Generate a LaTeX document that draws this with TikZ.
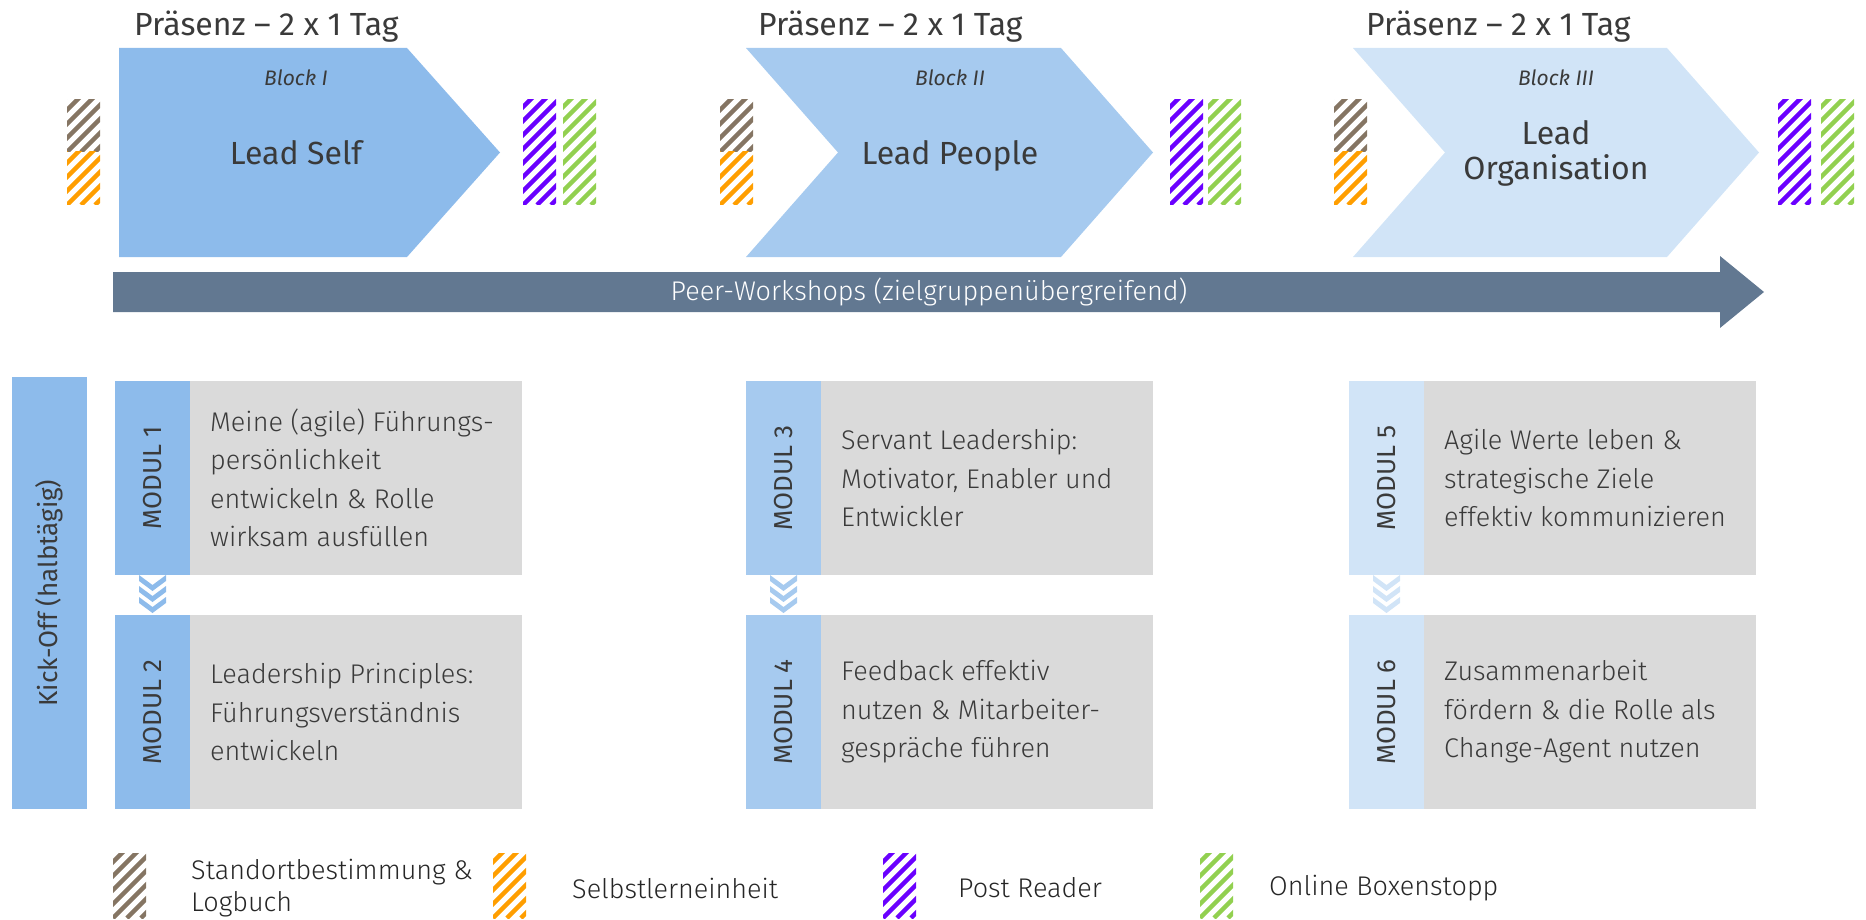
\documentclass[tikz,border=0pt]{standalone}
\usepackage{fontspec}
\setmainfont{Fira Sans}
\newfontfamily\firalight{Fira Sans Light}
\definecolor{blueI}{HTML}{8DBBEB}
\definecolor{blueII}{HTML}{A6CAEF}
\definecolor{blueIII}{HTML}{D1E4F7}
\definecolor{peerblue}{HTML}{627891}
\definecolor{modgrey}{HTML}{DADADA}
\definecolor{txt}{HTML}{3A3A3A}
\definecolor{hbrown}{HTML}{857563}
\definecolor{horange}{HTML}{FF9E00}
\definecolor{hpurple}{HTML}{6A00FF}
\definecolor{hgreen}{HTML}{92D050}
%striped bar: #1 = left x, #2 = top y, #3 = bottom y, #4 = colour
\newcommand{\hatchbar}[4]{%
    \begin{scope}
        \clip (#1,#2) rectangle (#1+33,#3);
        \foreach \s in {-140,-126,...,42}
            \draw[#4,line width=4.5pt] (#1+\s,#3) -- ++(130,-130);
    \end{scope}%
}
%three chevrons between two modules: #1 = centre x, #2 = top y, #3 = colour
\newcommand{\chevrons}[3]{%
    \foreach \k in {0,1,2}
        \fill[#3] (#1-13.5,#2+11*\k) -- (#1,#2+11*\k+10) -- (#1+13.5,#2+11*\k) -- (#1+13.5,#2+11*\k+6) -- (#1,#2+11*\k+16) -- (#1-13.5,#2+11*\k+6) -- cycle;%
}
%one module: #1 = name, #2 = left x, #3 = centre y, #4 = colour, #5 = number, #6 = text
\newcommand{\modul}[6]{%
    \node[modtag,fill=#4] (#1tag) at (#2+37.5,#3) {MODUL #5};
    \node[modbox] (#1box) at (#2+75,#3) {};
    \node[modtext] (#1text) at ([xshift=20pt]#1box.west) {#6};%
}

\begin{document}
\begin{tikzpicture}[x=1pt,y=-1pt,
every node/.style={inner sep=0pt,text=txt},
heading/.style={anchor=base west,font=\fontsize{32}{38}\selectfont},
blocktag/.style={font=\itshape\fontsize{21}{25}\selectfont},
blocktitle/.style={align=center,font=\fontsize{32}{35}\selectfont},
modtag/.style={rotate=90,minimum width=194,minimum height=75,font=\fontsize{26}{30}\selectfont},
modbox/.style={fill=modgrey,anchor=west,minimum width=332,minimum height=194},
modtext/.style={anchor=west,align=left,font=\firalight\fontsize{27}{38.5}\selectfont},
legend/.style={anchor=west,align=left,text=black!85,font=\firalight\fontsize{27}{32}\selectfont}]
\useasboundingbox (0,0) rectangle (1866,920);

%the three blocks
\fill[blueI] (119,48) -- (407,48) -- (500,152.5) -- (407,257) -- (119,257) -- cycle;
\fill[blueII] (746,48) -- (1061,48) -- (1153,152.5) -- (1061,257) -- (746,257) -- (838,152.5) -- cycle;
\fill[blueIII] (1353,48) -- (1667,48) -- (1759,152.5) -- (1667,257) -- (1353,257) -- (1445,152.5) -- cycle;

\node[heading] (presI) at (134,36) {Präsenz – 2 x 1 Tag};
\node[heading] (presII) at (758,36) {Präsenz – 2 x 1 Tag};
\node[heading] (presIII) at (1366,36) {Präsenz – 2 x 1 Tag};

\node[blocktag] (tagI) at (296,78) {Block I};
\node[blocktitle] (leadI) at (296,153) {Lead Self};
\node[blocktag] (tagII) at (950,78) {Block II};
\node[blocktitle] (leadII) at (950,156) {Lead People};
\node[blocktag] (tagIII) at (1556,78) {Block III};
\node[blocktitle] (leadIII) at (1556,153) {Lead\\Organisation};

%striped bars before and after each block
\foreach \l/\p/\g in {67/523/563,720/1170/1208,1334/1778/1821}{
    \hatchbar{\l}{100}{152}{hbrown}
    \hatchbar{\l}{152}{205}{horange}
    \hatchbar{\p}{100}{205}{hpurple}
    \hatchbar{\g}{100}{205}{hgreen}
}

%peer workshop arrow
\fill[peerblue] (113,272) -- (1720,272) -- (1720,256) -- (1764,292) -- (1720,328) -- (1720,312) -- (113,312) -- cycle;
\node[text=white,font=\firalight\fontsize{27}{30}\selectfont] (peer) at (929,292) {Peer-Workshops (zielgruppenübergreifend)};

%kick-off and modules
\node[modtag,minimum width=432,fill=blueI] (kickoff) at (49.5,593) {Kick-Off (halbtägig)};

\modul{m1}{115}{478}{blueI}{1}{Meine (agile) Führungs-\\persönlichkeit\\entwickeln \& Rolle\\wirksam ausfüllen}
\modul{m2}{115}{712}{blueI}{2}{Leadership Principles:\\Führungsverständnis\\entwickeln}
\modul{m3}{746}{478}{blueII}{3}{Servant Leadership:\\Motivator, Enabler und\\Entwickler}
\modul{m4}{746}{712}{blueII}{4}{Feedback effektiv\\nutzen \& Mitarbeiter-\\gespräche führen}
\modul{m5}{1349}{478}{blueIII}{5}{Agile Werte leben \&\\strategische Ziele\\effektiv kommunizieren}
\modul{m6}{1349}{712}{blueIII}{6}{Zusammenarbeit\\fördern \& die Rolle als\\Change-Agent nutzen}

\chevrons{152.5}{575}{blueI}
\chevrons{783.5}{575}{blueII}
\chevrons{1386.5}{575}{blueIII}

%legend
\hatchbar{113}{853}{918}{hbrown}
\hatchbar{493}{853}{918}{horange}
\hatchbar{883}{853}{918}{hpurple}
\hatchbar{1200}{853}{918}{hgreen}
\node[legend] (legI) at (191,888) {Standortbestimmung \&\\Logbuch};
\node[legend] (legII) at (572,888) {Selbstlerneinheit};
\node[legend] (legIII) at (958,888) {Post Reader};
\node[legend] (legIV) at (1269,888) {Online Boxenstopp};
\end{tikzpicture}
\end{document}
